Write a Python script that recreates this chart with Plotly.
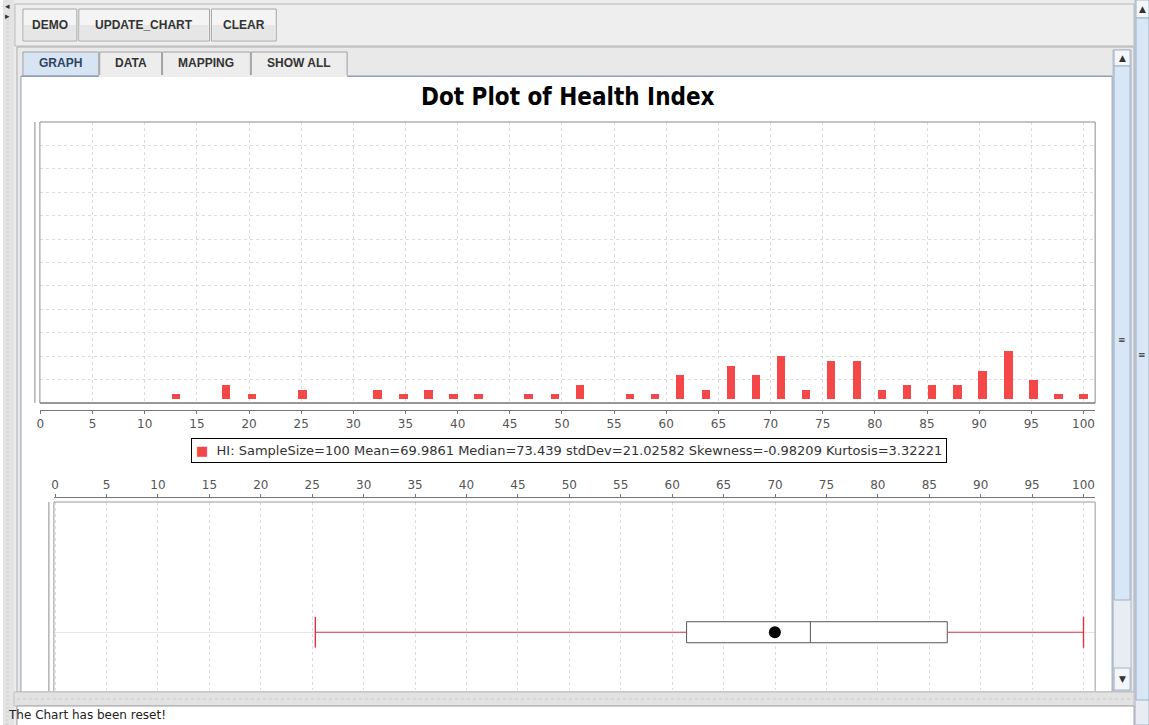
import plotly.graph_objects as go

W, H = 1149, 725

# ---- data -------------------------------------------------------------
bin_centers = [13.0, 17.8, 20.3, 25.1, 32.3, 34.8, 37.2, 39.6, 42.0, 46.8,
               49.3, 51.7, 56.5, 58.9, 61.3, 63.8, 66.2, 68.6, 71.0, 73.4,
               75.8, 78.3, 80.7, 83.1, 85.5, 87.9, 90.3, 92.8, 95.2, 97.6,
               100.0]
bin_counts = [1, 3, 1, 2, 2, 1, 2, 1, 1, 1,
              1, 3, 1, 1, 5, 2, 7, 5, 9, 2,
              8, 8, 2, 3, 3, 3, 6, 10, 4, 1,
              1]

x_ticks = [0, 5, 10, 15, 20, 25, 30, 35, 40, 45, 50,
           55, 60, 65, 70, 75, 80, 85, 90, 95, 100]

# box-and-whisker summary of HI
box_low = 25.3
box_q1 = 61.4
box_median = 73.439
box_q3 = 86.75
box_high = 100.0
box_mean = 69.9861

legend_text = ("HI: SampleSize=100 Mean=69.9861 Median=73.439 "
               "stdDev=21.02582 Skewness=-0.98209 Kurtosis=3.32221")

BAR_RED = "#f44848"
WHISKER_RED = "#dc3444"


def px(x):
    return x / W


def py(y):
    return 1 - y / H


fig = go.Figure()

# ---- histogram-style dot plot -----------------------------------------
fig.add_trace(go.Bar(
    x=bin_centers, y=bin_counts, width=0.8,
    marker=dict(color=BAR_RED, line=dict(width=0)),
    xaxis="x", yaxis="y", showlegend=False, hoverinfo="x+y",
))

# ---- box plot ----------------------------------------------------------
fig.add_trace(go.Box(
    q1=[box_q1], median=[box_median], q3=[box_q3],
    lowerfence=[box_q1], upperfence=[box_q3],
    y=[0], orientation="h", width=1,
    fillcolor="white", line=dict(color="#555555", width=1),
    whiskerwidth=0, xaxis="x2", yaxis="y2", showlegend=False,
    hoverinfo="skip",
))
# whiskers
fig.add_trace(go.Scatter(
    x=[box_low, box_q1, None, box_q3, box_high], y=[0, 0, None, 0, 0],
    mode="lines", line=dict(color=WHISKER_RED, width=1),
    xaxis="x2", yaxis="y2", showlegend=False, hoverinfo="skip",
))
# whisker caps
fig.add_trace(go.Scatter(
    x=[box_low, box_high], y=[0, 0], mode="markers",
    marker=dict(symbol="line-ns", size=22, color=WHISKER_RED,
                line=dict(color=WHISKER_RED, width=1.4)),
    xaxis="x2", yaxis="y2", showlegend=False, hoverinfo="skip",
))
# mean marker
fig.add_trace(go.Scatter(
    x=[box_mean], y=[0], mode="markers",
    marker=dict(symbol="circle", size=12, color="black"),
    xaxis="x2", yaxis="y2", showlegend=False, hoverinfo="x",
))

# ---- layout: axes ------------------------------------------------------
grid = dict(showgrid=True, gridcolor="#dcdcdc", griddash="dot", gridwidth=1)
tickfont = dict(family="DejaVu Sans, Verdana, sans-serif", size=12,
                color="#555555")

top_dom_x = [px(37), px(1095)]
top_dom_y = [py(403), py(122)]
box_dom_x = [px(51), px(1095)]
box_dom_y = [py(690), py(502)]

fig.update_layout(
    width=W, height=H,
    margin=dict(l=0, r=0, t=0, b=0),
    paper_bgcolor="white", plot_bgcolor="rgba(0,0,0,0)",
    bargap=0,
    xaxis=dict(domain=top_dom_x, range=[-0.05, 101.12], anchor="free",
               position=py(410), tickvals=x_ticks, ticks="outside",
               ticklen=3, tickcolor="#777777", showline=True,
               linecolor="#777777", linewidth=1, tickfont=tickfont,
               zeroline=False, fixedrange=True, **grid),
    yaxis=dict(domain=top_dom_y, range=[-0.8, 58.0], tick0=-0.8, dtick=4.9,
               showticklabels=False, zeroline=False, showline=False,
               ticks="", fixedrange=True, **grid),
    xaxis2=dict(domain=box_dom_x, range=[-0.126, 101.13], anchor="free",
                position=py(497), side="top", tickvals=x_ticks,
                ticks="outside", ticklen=3, tickcolor="#777777",
                showline=True, linecolor="#777777", linewidth=1,
                tickfont=tickfont, zeroline=False, fixedrange=True, **grid),
    yaxis2=dict(domain=box_dom_y, range=[-2.75, 6.2], tickvals=[0],
                showticklabels=False, zeroline=False, showline=False,
                ticks="", showgrid=True, gridcolor="#e6e6e6",
                fixedrange=True),
    showlegend=False,
)

# ---- shapes: window chrome and plot frames -----------------------------
shapes = []


def rect(x0, y0, x1, y1, fill=None, line=None, lw=1, layer="below"):
    shapes.append(dict(
        type="rect", xref="paper", yref="paper",
        x0=px(x0), x1=px(x1), y0=py(y1), y1=py(y0),
        fillcolor=fill if fill else "rgba(0,0,0,0)",
        line=dict(color=line if line else "rgba(0,0,0,0)",
                  width=lw if line else 0),
        layer=layer,
    ))


def hline(x0, x1, y, color, lw=1, dash="solid", layer="below"):
    shapes.append(dict(type="line", xref="paper", yref="paper",
                       x0=px(x0), x1=px(x1), y0=py(y), y1=py(y),
                       line=dict(color=color, width=lw, dash=dash),
                       layer=layer))


def vline(x, y0, y1, color, lw=1, dash="solid", layer="below"):
    shapes.append(dict(type="line", xref="paper", yref="paper",
                       x0=px(x), x1=px(x), y0=py(y0), y1=py(y1),
                       line=dict(color=color, width=lw, dash=dash),
                       layer=layer))


# background of the window
rect(0, 0, W, H, fill="#ececec")
# left dotted gutter
rect(0, 0, 11, H, fill="#e3e3e3")
for yy in range(20, H, 4):
    hline(3, 9, yy, "#cfcfcf", lw=1, dash="dot")
# toolbar
rect(12, 4, 1134, 46, fill="#eeeeee", line="#b8b8b8")
# buttons
for bx0, bx1 in [(20, 74), (76, 207), (209, 274)]:
    rect(bx0, 9, bx1, 41, fill="#f4f4f4", line="#a8a8a8")
    rect(bx0 + 1, 25, bx1 - 1, 40, fill="#e6e6e6")
# tab row and content panel
rect(14, 47, 1134, 692, fill="#e9e9e9", line="#b0b0b0")
tabs = [(20, 96), (97, 159), (160, 248), (249, 345)]
for i, (tx0, tx1) in enumerate(tabs):
    rect(tx0, 52, tx1, 76, fill="#d7e4f3" if i == 0 else "#ededed",
         line="#a0a0a0")
rect(18, 76, 1112, 692, fill="white", line="#8ea0b8")
hline(18, 1112, 76.5, "#8ea0b8")
rect(96, 75, 345, 77, fill="#ececec")
# inner vertical scrollbar
rect(1113, 50, 1131, 691, fill="#e8edf3", line="#a8b4c4")
rect(1114, 50, 1130, 66, fill="#f3f6fa", line="#a8b4c4")
rect(1114, 66, 1130, 600, fill="#d9e6f5", line="#9fb2c9")
rect(1114, 668, 1130, 690, fill="#f3f6fa", line="#a8b4c4")
# outer vertical scrollbar
rect(1135, 0, 1149, H, fill="#e8edf3", line="#a8b4c4")
rect(1136, 0, 1149, 18, fill="#f3f6fa", line="#a8b4c4")
rect(1136, 18, 1149, 700, fill="#d9e6f5", line="#9fb2c9")
# dotted splitter and status area
rect(11, 692, 1134, 706, fill="#e2e2e2", line="#c0c0c0")
hline(14, 1130, 699, "#c8c8c8", lw=1, dash="dot")
rect(14, 706, 1134, 730, fill="white", line="#a0a0a0")

# frame of the dot plot
rect(37, 122, 1095, 403, line="#8c8c8c", layer="above")
hline(37, 1095, 403, "#6a6a6a", layer="above")
vline(32, 122, 403, "#8c8c8c")
# frame of the box plot (runs past the bottom of the panel)
hline(51, 1095, 502, "#9a9a9a", layer="above")
vline(51, 502, 691, "#9a9a9a", layer="above")
vline(1095, 502, 691, "#9a9a9a", layer="above")
vline(46, 502, 691, "#8c8c8c")

fig.update_layout(shapes=shapes)

# ---- annotations -------------------------------------------------------
ann = []
btn_font = dict(family="Liberation Sans, Arial, sans-serif", size=12,
                color="#333333")
for label, cx in [("DEMO", 47), ("UPDATE_CHART", 141.5), ("CLEAR", 241.5)]:
    ann.append(dict(text="<b>%s</b>" % label, x=px(cx), y=py(25),
                    xref="paper", yref="paper", showarrow=False,
                    font=btn_font, xanchor="center", yanchor="middle"))
for label, (tx0, tx1) in zip(["GRAPH", "DATA", "MAPPING", "SHOW ALL"], tabs):
    ann.append(dict(text="<b>%s</b>" % label, x=px((tx0 + tx1) / 2),
                    y=py(63), xref="paper", yref="paper", showarrow=False,
                    font=dict(family="Liberation Sans, Arial, sans-serif",
                              size=12,
                              color="#2f4460" if label == "GRAPH"
                              else "#333333"),
                    xanchor="center", yanchor="middle"))
# chart title
ann.append(dict(text="<b>Dot Plot of Health Index</b>", x=px(566),
                y=py(97), xref="paper", yref="paper", showarrow=False,
                font=dict(family="DejaVu Sans Condensed, Liberation Sans "
                                 "Narrow, Arial Narrow, sans-serif",
                          size=24, color="black"),
                xanchor="center", yanchor="middle"))
# series legend
ann.append(dict(
    text="<span style='color:%s'>■</span>  %s" % (BAR_RED, legend_text),
    x=px(567), y=py(451), xref="paper", yref="paper", showarrow=False,
    font=dict(family="DejaVu Sans, Verdana, sans-serif", size=13,
              color="#333333"),
    xanchor="center", yanchor="middle", bgcolor="white",
    bordercolor="black", borderwidth=1, borderpad=4))
# status line
ann.append(dict(text="The Chart has been reset!", x=px(3), y=py(715),
                xref="paper", yref="paper", showarrow=False,
                font=dict(family="DejaVu Sans, Verdana, sans-serif",
                          size=12, color="#222222"),
                xanchor="left", yanchor="middle"))
# scrollbar arrows and grips
for text, x, y in [("▲", 1122, 58), ("▼", 1122, 679), ("≡", 1122, 340),
                   ("▲", 1142, 9), ("≡", 1142, 355), ("◂", 5, 6),
                   ("▸", 5, 16)]:
    ann.append(dict(text=text, x=px(x), y=py(y), xref="paper",
                    yref="paper", showarrow=False,
                    font=dict(family="DejaVu Sans", size=9, color="#333333"),
                    xanchor="center", yanchor="middle"))

fig.update_layout(annotations=ann)

fig.write_html("out.html")
